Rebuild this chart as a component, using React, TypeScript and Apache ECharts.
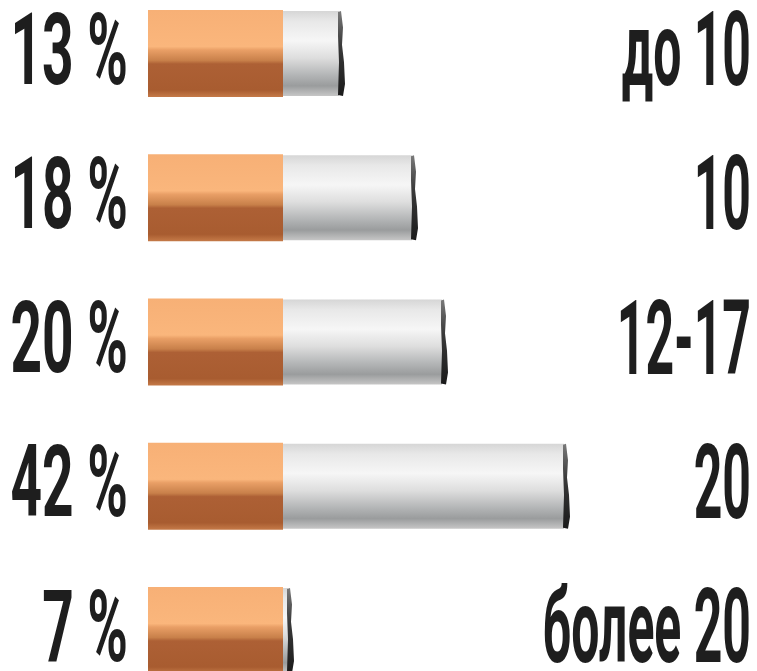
import React, { useEffect, useRef } from "react";
import * as echarts from "echarts";

// Right-hand category labels (top to bottom)
const categories = ["до 10", "10", "12-17", "20", "более 20"];
// Share, percent
const shares = [13, 18, 20, 42, 7];
// Visual length of the white (tobacco) part of each cigarette, in axis units
const bodyLength = [59, 132, 162, 284, 8];
// Length of the filter part, in axis units
const FILTER = 135;
const X_MAX = 602;

export default function App() {
  const ref = useRef<HTMLDivElement>(null);
  useEffect(() => {
    if (!ref.current) return;
    const chart = echarts.init(ref.current, null, { renderer: "svg" });
    const data = shares.map((s, i) => [i, bodyLength[i], s]);
    const font = 'Roboto, "Liberation Sans", sans-serif';
    const textStyle = (text: string, size: number) => ({
      text,
      x: 0,
      y: 0,
      align: "right",
      verticalAlign: "middle",
      fontFamily: font,
      fontWeight: "bold",
      fontSize: size,
      lineHeight: 76,
      fill: "#1e1e1e",
    });
    chart.setOption({
      animation: false,
      backgroundColor: "#ffffff",
      grid: { left: 148, right: 7, top: 53.5, bottom: 40.5 },
      xAxis: { type: "value", min: 0, max: X_MAX, show: false },
      yAxis: {
        type: "category",
        data: categories,
        inverse: true,
        boundaryGap: false,
        show: false,
      },
      series: [
        {
          type: "custom",
          clip: false,
          data,
          encode: { x: 1, y: 0 },
          renderItem: (params: any, api: any) => {
            const i = api.value(0);
            const body = api.value(1);
            const share = api.value(2);
            const p0 = api.coord([0, i]);
            const p1 = api.coord([FILTER, i]);
            const p2 = api.coord([FILTER + body, i]);
            const pr = api.coord([X_MAX, i]);
            const band = Math.abs(api.coord([0, 1])[1] - api.coord([0, 0])[1]);
            const h = band * 0.603;
            const top = p0[1] - h / 2;
            const bot = p0[1] + h / 2;
            const xe = p2[0];
            return {
              type: "group",
              children: [
                {
                  type: "rect",
                  shape: { x: p1[0] - 1, y: top + 1, width: xe - p1[0] - 2, height: h - 2 },
                  style: {
                    fill: new echarts.graphic.LinearGradient(0, 0, 0, 1, [
                      { offset: 0, color: "#d6d6d6" },
                      { offset: 0.12, color: "#e8e8e8" },
                      { offset: 0.35, color: "#f6f6f6" },
                      { offset: 0.55, color: "#dedede" },
                      { offset: 0.75, color: "#b4b6b7" },
                      { offset: 0.88, color: "#9a9c9d" },
                      { offset: 1, color: "#c6c6c6" },
                    ]),
                  },
                },
                {
                  type: "polygon",
                  shape: {
                    points: [
                      [xe - 4, top + 2],
                      [xe - 1, top + 1],
                      [xe + 1, top + h * 0.2],
                      [xe, top + h * 0.4],
                      [xe + 2, top + h * 0.6],
                      [xe + 3, top + h * 0.85],
                      [xe + 1, bot - 1],
                      [xe - 4, bot - 2],
                      [xe - 3, top + h * 0.6],
                      [xe - 4, top + h * 0.3],
                    ],
                  },
                  style: {
                    fill: new echarts.graphic.LinearGradient(0, 0, 0, 1, [
                      { offset: 0, color: "#7a7a7a" },
                      { offset: 0.4, color: "#3a3a3a" },
                      { offset: 1, color: "#1a1a1a" },
                    ]),
                  },
                },
                {
                  type: "rect",
                  shape: { x: p0[0], y: top, width: p1[0] - p0[0], height: h },
                  style: {
                    fill: new echarts.graphic.LinearGradient(0, 0, 0, 1, [
                      { offset: 0, color: "#f7b076" },
                      { offset: 0.42, color: "#fab67c" },
                      { offset: 0.46, color: "#e99f66" },
                      { offset: 0.58, color: "#c8804a" },
                      { offset: 0.62, color: "#ad6035" },
                      { offset: 0.92, color: "#a85c30" },
                      { offset: 1, color: "#c57a48" },
                    ]),
                  },
                },
                {
                  type: "text",
                  x: p0[0] - 20,
                  y: p0[1] - 4,
                  scaleX: 0.55,
                  style: textStyle(share + " %", 100),
                },
                {
                  type: "text",
                  x: pr[0] + 1,
                  y: p0[1] - 4,
                  scaleX: 0.48,
                  style: textStyle(categories[i], 104),
                },
              ],
            };
          },
        },
      ],
    });
    return () => chart.dispose();
  }, []);
  return (
    <div
      ref={ref}
      style={{ position: "fixed", left: 0, top: 0, width: 757, height: 671 }}
    />
  );
}
